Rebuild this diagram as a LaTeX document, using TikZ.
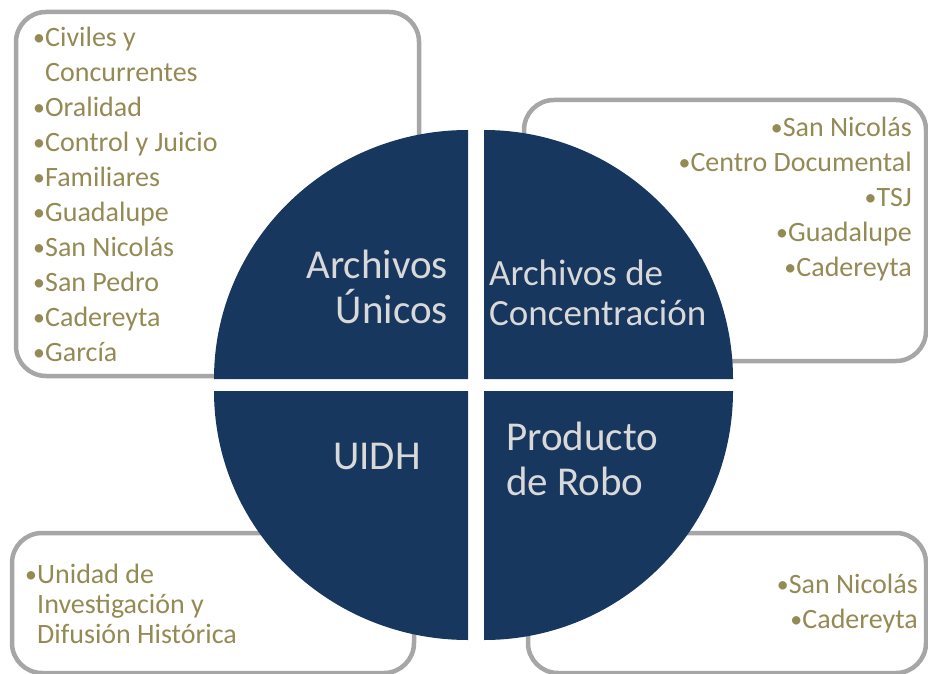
\documentclass[tikz,border=0pt]{standalone}
\usepackage{fontspec}
\setmainfont{Carlito}
\usepackage{tikz}
\definecolor{navyblue}{HTML}{17375E}
\definecolor{boxgray}{HTML}{A6A6A6}
\definecolor{listgold}{HTML}{948A54}
\definecolor{quadgray}{HTML}{D9D9D9}
\newcommand{\bul}{\makebox[12pt][l]{\raisebox{1pt}{\scalebox{0.85}{\textbullet}}}}
\begin{document}
\begin{tikzpicture}[x=1pt,y=1pt,
    listbox/.style={draw=boxgray, line width=4.5pt, fill=white, rounded corners=30pt, inner sep=0pt},
    quarter/.style={fill=navyblue},
    quadlabel/.style={text=quadgray, inner sep=0pt, font=\fontsize{41}{45}\selectfont},
    itemlist/.style={text=listgold, inner sep=0pt, font=\fontsize{28}{35}\selectfont}]
     \useasboundingbox (0,0) rectangle (928,673);
     % boxes behind the circle
     \node[listbox, minimum width=403pt, minimum height=364pt] (boxAU) at (217.5,479) {};
     \node[listbox, minimum width=402pt, minimum height=261pt] (boxAC) at (725,442.5) {};
     \node[listbox, minimum width=402pt, minimum height=140pt] (boxUI) at (213,70) {};
     \node[listbox, minimum width=398pt, minimum height=140pt] (boxPR) at (727,70) {};
     % four quarters
     \fill[quarter] (468,294) -- (214,294) arc[start angle=180, end angle=90, x radius=254, y radius=249] -- cycle;
     \fill[quarter] (484,294) -- (484,543) arc[start angle=90, end angle=0, x radius=249, y radius=249] -- cycle;
     \fill[quarter] (468,282) -- (214,282) arc[start angle=180, end angle=270, x radius=254, y radius=249] -- cycle;
     \fill[quarter] (484,282) -- (733,282) arc[start angle=0, end angle=-90, x radius=249, y radius=249] -- cycle;
     % labels in the quarters (base = last line)
     \node[quadlabel, align=right, anchor=base east] (labAU) at (448,350) {Archivos\\Únicos};
     \node[quadlabel, align=left, anchor=base west, font=\fontsize{37}{40}\selectfont] (labAC) at (489,348) {Archivos de\\Concentración};
     \node[quadlabel, anchor=base west] (labUI) at (333,204) {UIDH};
     \node[quadlabel, align=left, anchor=base west] (labPR) at (506,178) {Producto\\de Robo};
     % lists
     \node[itemlist, align=left, anchor=base west] (listAU) at (33,312)
       {\bul Civiles y\\\hspace{12pt}Concurrentes\\\bul Oralidad\\\bul Control y Juicio\\\bul Familiares\\\bul Guadalupe\\\bul San Nicolás\\\bul San Pedro\\\bul Cadereyta\\\bul García};
     \node[itemlist, align=right, anchor=base east] (listAC) at (912,396)
       {\bul San Nicolás\\\bul Centro Documental\\\bul TSJ\\\bul Guadalupe\\\bul Cadereyta};
     \node[itemlist, align=left, anchor=base west, font=\fontsize{28}{30}\selectfont] (listUI) at (25,30)
       {\bul Unidad de\\\hspace{12pt}Investigación y\\\hspace{12pt}Difusión Histórica};
     \node[itemlist, align=right, anchor=base east] (listPR) at (918,45)
       {\bul San Nicolás\\\bul Cadereyta};
\end{tikzpicture}
\end{document}
